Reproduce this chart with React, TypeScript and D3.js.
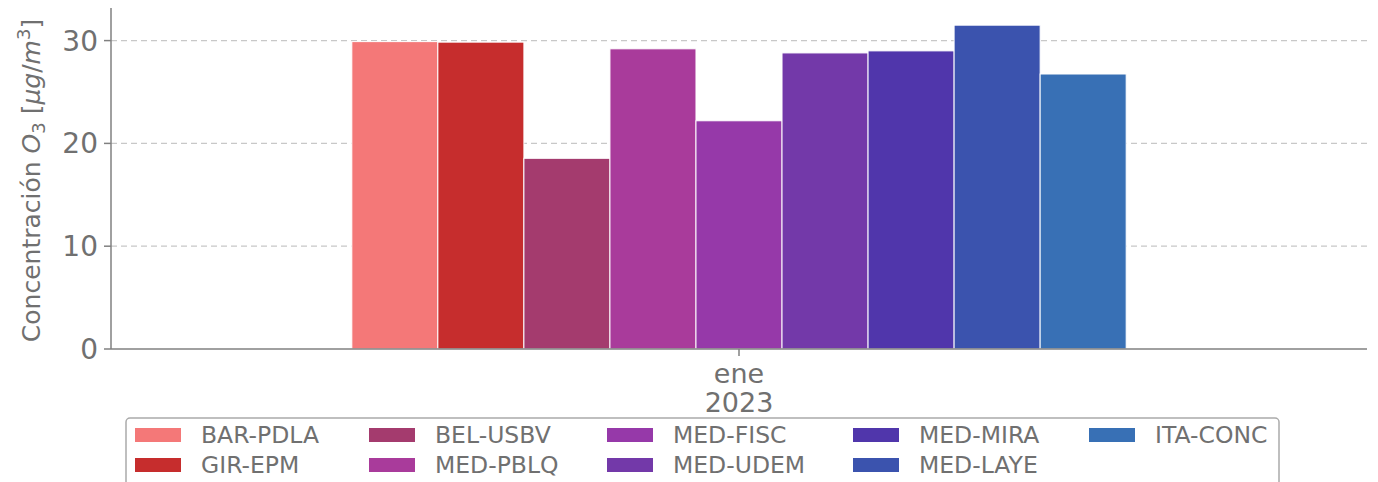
import React from "react";
import * as d3 from "d3";

const stations = ["BAR-PDLA", "GIR-EPM", "BEL-USBV", "MED-PBLQ", "MED-FISC", "MED-UDEM", "MED-MIRA", "MED-LAYE", "ITA-CONC"];
const values = [29.9, 29.85, 18.55, 29.2, 22.2, 28.8, 29.0, 31.5, 26.75];
const colors = ["#f47878", "#c62d2d", "#a43b6e", "#a93b9b", "#9639a9", "#7339a9", "#5036ab", "#3b53ae", "#3870b5"];
const months = ["ene"];
const years = ["2023"];
const yTicks = [0, 10, 20, 30];

const W = 1378, H = 482;
const left = 111, right = 1367, top = 8, bottom = 349;
const textColor = "#707070";
const axisColor = "#808080";
const font = "DejaVu Sans, sans-serif";

export default function App() {
  const y = d3.scaleLinear().domain([0, 33.17]).range([bottom, top]);
  const xOuter = d3.scaleBand<string>().domain(months).range([left, right]).paddingInner(0).paddingOuter(0.311);
  const xInner = d3.scaleBand<string>().domain(stations).range([0, xOuter.bandwidth()]).padding(0);

  const legendCols = [135, 369, 607, 853, 1089];
  const legendRows = [435, 465];

  return (
    <svg width={W} height={H} style={{ position: "absolute", left: 0, top: 0, background: "#fff" }} fontFamily={font}>
      {yTicks.filter(t => t > 0).map(t => (
        <line key={"g" + t} x1={left} x2={right} y1={y(t)} y2={y(t)} stroke="#c8c8c8" strokeWidth={1.3} strokeDasharray="6,4" />
      ))}
      {months.map(m => (
        <g key={m} transform={`translate(${xOuter(m)},0)`}>
          {stations.map((s, i) => (
            <rect key={s} x={xInner(s)} y={y(values[i])} width={xInner.bandwidth()} height={y(0) - y(values[i])}
              fill={colors[i]} stroke="#ffffff" strokeWidth={1} />
          ))}
        </g>
      ))}
      <line x1={left} x2={left} y1={top} y2={bottom} stroke={axisColor} strokeWidth={1.5} />
      <line x1={left} x2={right} y1={bottom} y2={bottom} stroke={axisColor} strokeWidth={1.5} />
      {yTicks.map(t => (
        <g key={"t" + t}>
          <line x1={left - 7} x2={left} y1={y(t)} y2={y(t)} stroke={axisColor} strokeWidth={1.5} />
          <text x={left - 13} y={y(t)} dy="0.36em" textAnchor="end" fontSize={28} fill={textColor}>{t}</text>
        </g>
      ))}
      {months.map((m, i) => {
        const cx = (xOuter(m) as number) + xOuter.bandwidth() / 2;
        return (
          <g key={"x" + m}>
            <line x1={cx} x2={cx} y1={bottom} y2={bottom + 7} stroke={axisColor} strokeWidth={1.5} />
            <text x={cx} y={383} textAnchor="middle" fontSize={27} fill={textColor}>{m}</text>
            <text x={cx} y={412} textAnchor="middle" fontSize={27} fill={textColor}>{years[i]}</text>
          </g>
        );
      })}
      <text transform={`translate(40,${(top + bottom) / 2 + 2}) rotate(-90)`} textAnchor="middle" fontSize={25} fill={textColor}>
        <tspan>Concentración </tspan>
        <tspan fontStyle="italic">O</tspan>
        <tspan fontSize={18} dy={5}>3</tspan>
        <tspan dy={-5}> [</tspan>
        <tspan fontStyle="italic">μg</tspan>
        <tspan>/</tspan>
        <tspan fontStyle="italic">m</tspan>
        <tspan fontSize={18} dy={-10}>3</tspan>
        <tspan dy={10}>]</tspan>
      </text>
      <rect x={126} y={418} width={1153} height={80} rx={4} fill="#fff" stroke="#aaaaaa" strokeWidth={1.5} />
      {stations.map((s, i) => {
        const c = Math.floor(i / 2), r = i % 2;
        const lx = legendCols[c], ly = legendRows[r];
        return (
          <g key={"l" + s}>
            <rect x={lx} y={ly - 7} width={46} height={14} fill={colors[i]} />
            <text x={lx + 66} y={ly} dy="0.36em" fontSize={23.5} fill={textColor}>{s}</text>
          </g>
        );
      })}
    </svg>
  );
}
